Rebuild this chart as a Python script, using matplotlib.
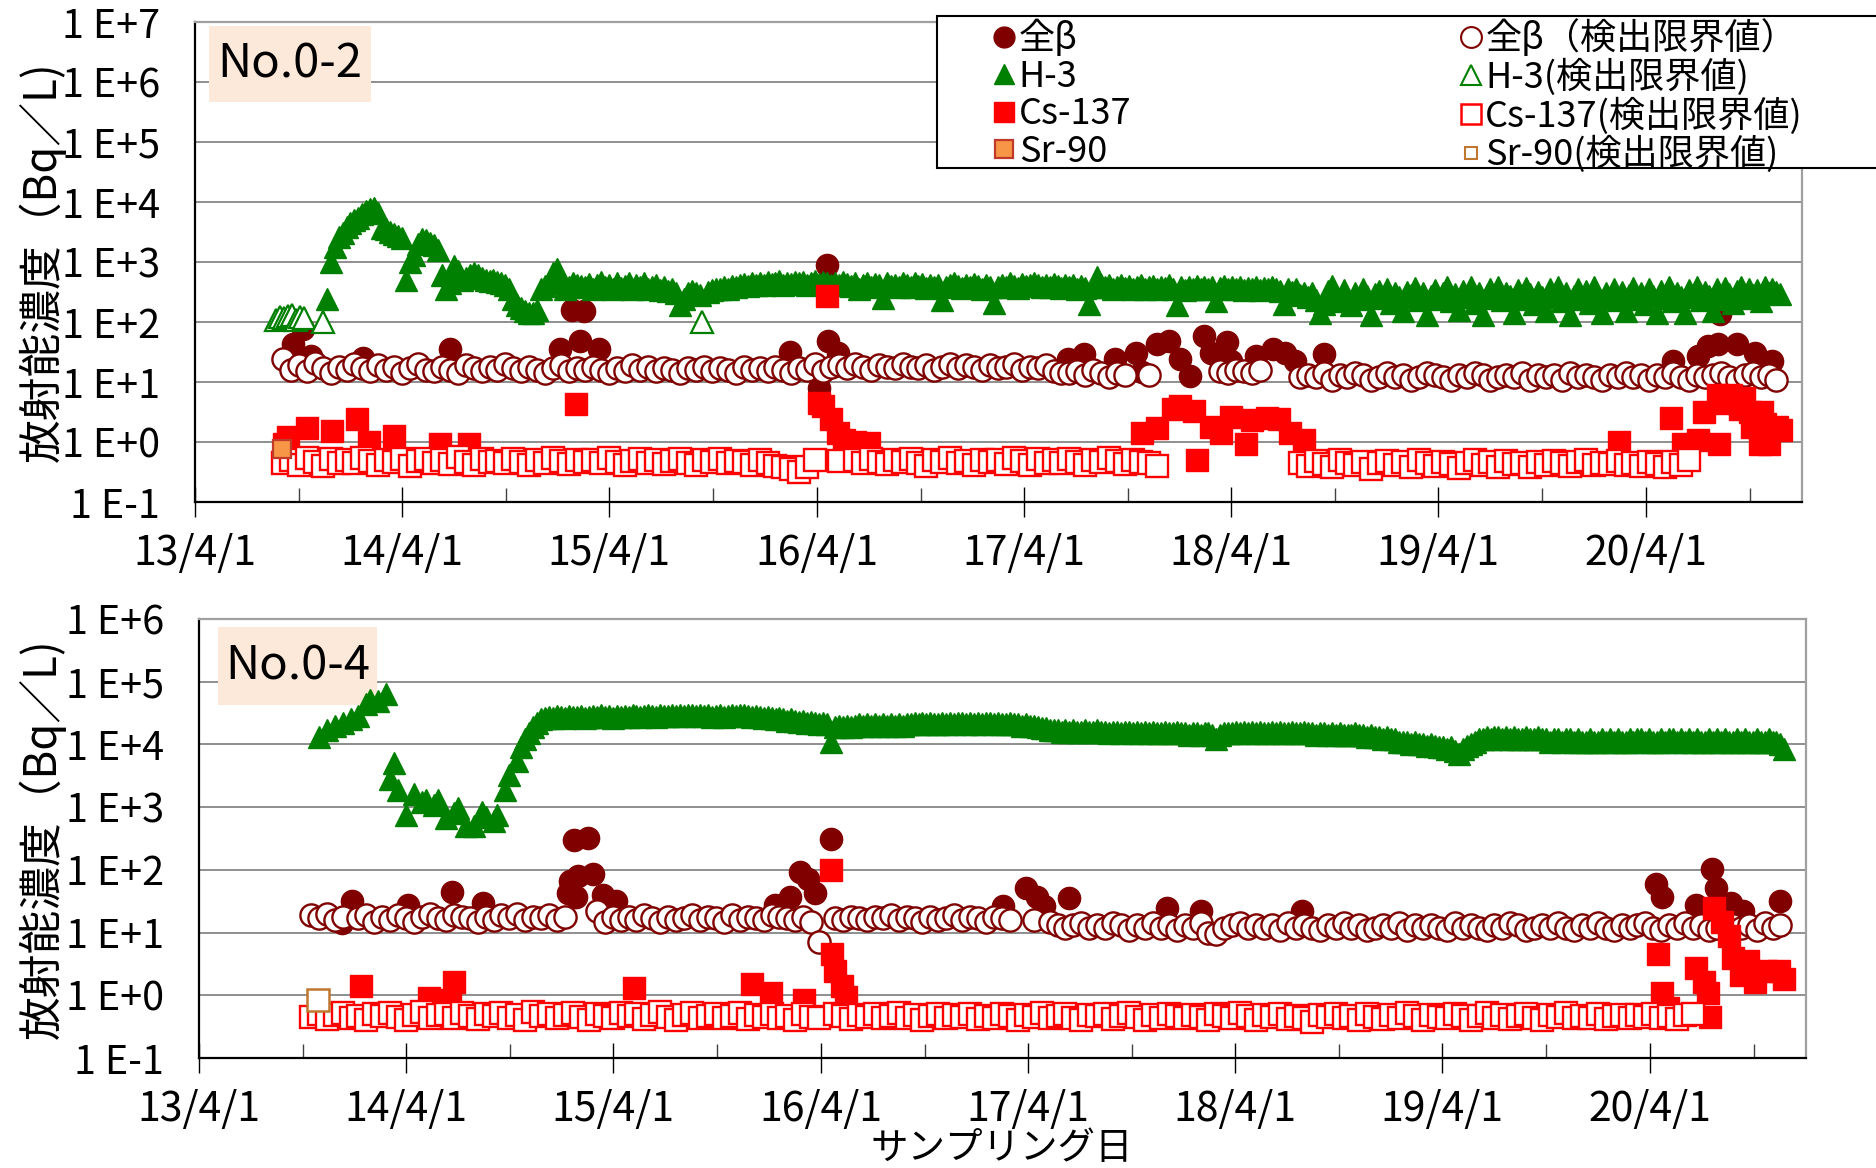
import numpy as np
import pandas as pd
import matplotlib
matplotlib.use("Agg")
import matplotlib.pyplot as plt
import matplotlib.dates as mdates
from matplotlib.lines import Line2D
from matplotlib.patches import Rectangle
from matplotlib.ticker import FuncFormatter, FixedLocator, NullLocator

plt.rcParams['font.family'] = ['Noto Sans CJK JP', 'DejaVu Sans']

# ------------------------------
# No.0-2
# ------------------------------
# H-3 sampled weekly, gross beta / Cs-137 read every 2 weeks
sched_h3_02 = pd.date_range('2013-11-19', periods=367, freq='7D')
sched_02 = pd.date_range('2013-08-20', periods=190, freq='14D')

h3_02 = [
    2.4e2, 1.0e3, 1.8e3, 2.6e3, 3.1e3, 3.8e3, 4.5e3, 5.1e3, 5.5e3, 6.2e3, 7.0e3, 7.5e3, 8.0e3,
    6.5e3, 3.7e3, 3.5e3, 3.2e3, 2.9e3, 2.7e3, 2.5e3, 5.1e2, 1.0e3, 1.3e3, 2.0e3, 2.4e3, 2.3e3,
    2.1e3, 1.9e3, 1.6e3, 6.0e2, 3.5e2, 4.5e2, 8.5e2, 7.0e2, 5.1e2, 5.5e2, 6.0e2, 6.6e2, 6.0e2,
    5.5e2, 5.1e2, 4.8e2, 5.0e2, 4.6e2, 4.5e2, 4.2e2, 3.5e2, 2.4e2, 1.9e2, 1.7e2, 1.5e2, 1.4e2,
    1.4e2, 1.6e2, 3.5e2, 4.0e2, 4.5e2, 6.5e2, 7.6e2, 5.0e2, 3.5e2, 3.8e2, 4.5e2, 4.2e2, 4.0e2,
    3.8e2, 4.3e2, 3.6e2, 4.1e2, 4.6e2, 3.9e2, 4.2e2, 3.5e2, 4.4e2, 3.7e2, 4.0e2, 4.5e2, 3.6e2,
    4.1e2, 3.8e2, 4.4e2, 3.5e2, 3.9e2, 4.2e2, 3.4e2, 3.8e2, 3.3e2, 3.6e2, 3.1e2, 1.9e2, 2.4e2,
    3.0e2, 3.3e2, 3.0e2, 2.8e2, None, 3.2e2, 3.4e2, 3.6e2, 3.5e2, 3.8e2, 3.6e2, 4.0e2, 3.9e2,
    4.1e2, 4.3e2, 4.0e2, 4.4e2, 4.2e2, 4.5e2, 4.1e2, 4.6e2, 4.3e2, 4.4e2, 4.8e2, 4.2e2, 4.5e2,
    4.3e2, 4.6e2, 4.4e2, 4.7e2, 4.2e2, 4.5e2, 4.8e2, 4.3e2, 4.6e2, 4.4e2, 4.1e2, 4.5e2, 4.2e2,
    4.6e2, 4.3e2, 4.0e2, 4.4e2, 3.6e2, 4.2e2, 4.5e2, 3.9e2, 4.3e2, 4.1e2, 2.5e2, 4.4e2, 4.0e2,
    4.2e2, 3.8e2, 4.5e2, 4.1e2, 3.9e2, 4.4e2, 4.0e2, 4.3e2, 3.7e2, 4.1e2, 3.9e2, 4.2e2, 2.3e2,
    3.8e2, 4.1e2, 4.4e2, 4.0e2, 3.7e2, 4.2e2, 3.9e2, 4.3e2, 4.0e2, 3.6e2, 4.1e2, 3.8e2, 2.1e2,
    3.9e2, 4.2e2, 3.8e2, 4.4e2, 4.0e2, 3.7e2, 4.3e2, 4.0e2, 4.1e2, 4.5e2, 4.1e2, 3.8e2, 4.2e2,
    3.9e2, 4.3e2, 4.0e2, 3.7e2, 4.2e2, 3.8e2, 4.1e2, 3.6e2, 4.0e2, 3.7e2, 2.0e2, 3.9e2, 5.6e2,
    4.2e2, 3.8e2, 4.1e2, 3.6e2, 3.9e2, 4.2e2, 3.7e2, 4.0e2, 3.5e2, 3.9e2, 4.1e2, 3.6e2, 3.8e2,
    4.0e2, 3.5e2, 3.9e2, 3.7e2, 4.1e2, 3.6e2, 1.9e2, 3.8e2, 3.4e2, 3.9e2, 3.6e2, 4.0e2, 3.5e2,
    3.8e2, 3.6e2, 3.9e2, 2.2e2, 3.7e2, 4.0e2, 3.5e2, 3.8e2, 3.6e2, 3.9e2, 3.4e2, 3.7e2, 3.5e2,
    3.8e2, 3.4e2, 3.7e2, 3.5e2, 3.9e2, 3.6e2, 3.3e2, 2.0e2, 3.6e2, 3.2e2, 3.5e2, 2.8e2, 3.0e2,
    2.6e2, 3.1e2, 2.3e2, 1.4e2, 2.0e2, 3.3e2, 4.0e2, 2.8e2, 2.2e2, 3.4e2, 2.6e2, 1.9e2, 3.0e2,
    2.4e2, 3.6e2, 2.7e2, 1.3e2, 2.9e2, 3.3e2, 2.5e2, 3.5e2, 2.1e2, 3.0e2, 2.6e2, 1.5e2, 3.2e2,
    2.8e2, 3.7e2, 2.3e2, 3.1e2, 1.3e2, 2.7e2, 3.4e2, 2.4e2, 3.0e2, 3.8e2, 2.2e2, 2.9e2, 1.6e2,
    3.3e2, 2.6e2, 3.8e2, 2.1e2, 3.0e2, 1.3e2, 2.8e2, 3.5e2, 2.5e2, 3.9e2, 2.3e2, 3.1e2, 2.7e2,
    1.4e2, 3.4e2, 2.4e2, 3.7e2, 2.9e2, 2.0e2, 3.2e2, 2.6e2, 1.5e2, 3.5e2, 2.8e2, 3.9e2, 2.2e2,
    3.0e2, 1.3e2, 2.7e2, 3.6e2, 2.4e2, 3.3e2, 2.1e2, 3.8e2, 2.6e2, 1.4e2, 3.1e2, 2.5e2, 3.5e2,
    2.3e2, 3.2e2, 1.5e2, 2.8e2, 3.7e2, 2.4e2, 3.0e2, 2.0e2, 3.6e2, 2.7e2, 1.4e2, 3.3e2, 2.5e2,
    3.8e2, 2.2e2, 3.1e2, 2.6e2, 1.4e2, 3.4e2, 2.8e2, 3.9e2, 2.3e2, 3.2e2, 2.7e2, 1.5e2, 3.5e2,
    2.4e2, 3.7e2, 2.9e2, 2.1e2, 3.3e2, 3.9e2, 2.5e2, 3.6e2, 2.8e2, 3.4e2, 2.2e2, 3.8e2, 3.0e2,
    3.5e2, 3.2e2, 2.9e2,
]

beta_lim_02 = [
    None, 24, 16, 19, 15, 21, 17, 14, 18, 16,
    20, 17, 15, 19, 16, 18, 14, 17, 20, 16,
    15, 18, 16, 14, 19, 17, 15, 18, 16, 20,
    17, 15, 18, 16, 14, 17, 19, 15, 17, 16,
    18, 16, 14, 17, 15, 19, 16, 18, 15, 17,
    16, 14, 17, 16, 18, 15, 17, 16, 14, 18,
    16, 17, 15, 18, 16, 14, 17, 16, 20, 15,
    18, 19, 17, 20, 18, 16, 19, 18, 17, 20,
    18, 17, 19, 16, 18, 20, 17, 19, 18, 16,
    19, 17, 18, 20, 16, 18, 17, 19, 15, 14,
    14, 15, 13, 16, 14, 12, 14, 13, None, None,
    13, None, None, None, None, None, None, None, None, 15,
    14, 16, 15, 14, 16, None, None, None, None, 12,
    13, 12, 14, 11, 13, 12, 14, 13, 11, 12,
    14, 12, 13, 11, 12, 14, 13, 12, 11, 13,
    12, 14, 13, 11, 12, 13, 12, 14, 11, 13,
    12, 13, 11, 14, 12, 13, 12, 11, 13, 12,
    14, 12, 13, 11, 13, 12, 14, 12, 11, 13,
    12, 13, 14, 12, 11, 13, 14, 12, 13, 11,
]

cs_lim_02 = [
    None, 0.45, 0.5, 0.42, 0.55, 0.47, 0.4, 0.52, 0.45, 0.5,
    0.44, 0.55, 0.48, 0.42, 0.5, 0.46, 0.53, 0.4, 0.48, 0.52,
    0.45, 0.5, 0.43, 0.56, 0.47, 0.41, 0.52, 0.46, 0.49, 0.44,
    0.53, 0.47, 0.42, 0.5, 0.45, 0.55, 0.48, 0.43, 0.51, 0.46,
    0.5, 0.44, 0.54, 0.47, 0.42, 0.49, 0.52, 0.45, 0.5, 0.43,
    0.48, 0.53, 0.45, 0.41, 0.5, 0.46, 0.52, 0.44, 0.49, 0.47,
    0.42, 0.5, 0.45, 0.4, 0.38, 0.35, 0.32, 0.38, 0.5, None,
    None, 0.48, None, 0.5, 0.45, 0.52, 0.47, 0.43, 0.5, 0.46,
    0.53, 0.45, 0.4, 0.5, 0.47, 0.55, 0.44, 0.49, 0.42, 0.51,
    0.46, 0.5, 0.43, 0.55, 0.48, 0.41, 0.52, 0.45, 0.5, 0.44,
    0.53, 0.47, 0.42, 0.5, 0.46, 0.55, 0.48, 0.43, 0.51, 0.46,
    0.45, 0.4, None, None, None, None, None, None, None, None,
    None, None, None, None, None, None, None, None, None, 0.45,
    0.4, 0.48, 0.43, 0.38, 0.5, 0.45, 0.41, 0.47, 0.36, 0.44,
    0.49, 0.42, 0.46, 0.38, 0.5, 0.44, 0.4, 0.47, 0.43, 0.37,
    0.45, 0.5, 0.41, 0.46, 0.39, 0.48, 0.43, 0.45, 0.38, 0.47,
    0.42, 0.49, 0.44, 0.4, 0.46, 0.5, 0.41, 0.45, 0.43, 0.48,
    0.42, 0.45, 0.4, 0.47, 0.43, 0.39, 0.46, 0.41, 0.5, None,
    None, None, None, None, None, None, None, None, None, None,
]

beta_det_02_dates = [
    '2013-09-20', '2013-10-08', '2013-10-23', '2014-01-22', '2014-06-24',
    '2015-01-04', '2015-01-26', '2015-02-09', '2015-02-16', '2015-03-14',
    '2016-02-13', '2016-04-05', '2016-04-19', '2016-04-21', '2016-05-08',
    '2017-06-17', '2017-07-16', '2017-09-09', '2017-10-15', '2017-10-26',
    '2017-11-21', '2017-12-13', '2018-01-01', '2018-01-19', '2018-02-13',
    '2018-02-24', '2018-03-25', '2018-04-01', '2018-05-15', '2018-06-13',
    '2018-07-05', '2018-07-23', '2018-09-12',
    '2020-05-18', '2020-07-01', '2020-07-20', '2020-08-06', '2020-08-10',
    '2020-09-08', '2020-10-11', '2020-11-09',
]
beta_det_02 = [
    43, 76, 27, 25, 35,
    35, 160, 48, 150, 35,
    32, 8, 900, 48, 30,
    24, 29, 24, 31, 14.5,
    43, 48, 24, 12.6, 59,
    31, 46, 22, 27, 35,
    31, 22, 29,
    22, 27, 40, 43, 135,
    43, 31, 22,
]

h3_lim_02_dates = ['2013-08-22', '2013-08-29', '2013-09-05', '2013-09-12',
                   '2013-09-19', '2013-09-26', '2013-10-03', '2013-10-10',
                   '2013-11-12', '2015-09-12']
h3_lim_02 = [1.1e2, 1.2e2, 1.15e2, 1.25e2, 1.3e2, 1.1e2, 1.2e2, 1.15e2, 1.0e2, 1.0e2]

cs_det_02_dates = [
    '2013-09-05', '2013-09-12', '2013-10-15', '2013-11-28', '2014-01-11',
    '2014-02-02', '2014-03-18', '2014-06-06', '2014-07-27', '2015-02-02',
    '2016-04-05', '2016-04-12', '2016-04-19', '2016-04-26', '2016-05-08',
    '2016-05-19', '2016-06-07', '2016-07-02',
    '2017-10-26', '2017-11-21', '2017-12-20', '2018-01-01', '2018-01-26',
    '2018-01-30', '2018-02-24', '2018-03-14', '2018-04-01', '2018-04-27',
    '2018-05-08', '2018-06-03', '2018-06-25', '2018-07-13', '2018-08-08',
    '2020-02-14', '2020-05-15', '2020-06-06', '2020-07-01', '2020-07-12',
    '2020-08-06', '2020-08-08', '2020-08-15', '2020-08-29', '2020-09-13',
    '2020-09-20', '2020-10-01', '2020-10-05', '2020-10-12', '2020-10-19',
    '2020-10-23', '2020-10-28', '2020-11-03', '2020-11-18', '2020-11-25',
]
cs_det_02 = [
    0.93, 1.2, 1.7, 1.5, 2.4,
    1.0, 1.26, 0.93, 0.93, 4.3,
    4.5, 4.0, 270, 2.4, 1.4,
    1.1, 1.0, 0.95,
    1.4, 1.7, 3.5, 4.0, 3.3,
    0.5, 1.8, 1.4, 2.6, 0.93,
    2.3, 2.5, 2.4, 1.4, 1.1,
    1.0, 2.5, 0.93, 1.1, 3.2,
    6.0, 0.93, 4.5, 6.0, 3.6,
    5.5, 3.2, 1.8, 2.5, 0.93,
    3.2, 2.0, 0.93, 1.8, 1.6,
]

sr_det_02_dates = ['2013-09-01']
sr_det_02 = [0.75]

# ------------------------------
# No.0-4
# ------------------------------
sched_h3_04 = pd.date_range('2013-10-29', periods=370, freq='7D')
sched_04 = pd.date_range('2013-10-15', periods=186, freq='14D')

h3_04 = [
    1.3e4, None, 1.7e4, None, 2.0e4, None, 2.2e4, None, 2.5e4, None, 2.8e4, None, 4.4e4,
    5.2e4, None, 5.0e4, None, 6.3e4, 2.8e3, 5.0e3, 1.9e3, None, 7.5e2, None, 1.6e3, None,
    1.2e3, 1.3e3, None, 1.1e3, 1.3e3, None, 6.6e2, None, 8.0e2, 9.8e2, None, 5.0e2, None,
    5.0e2, None, 8.5e2, 7.0e2, None, 6.0e2, 7.5e2, None, 1.9e3, 3.2e3, None, 5.4e3, 9.0e3,
    1.2e4, 1.5e4, 1.9e4, 2.2e4, 2.5e4, 2.6e4, 2.7e4, 2.6e4, 2.8e4, 2.7e4, 2.6e4, 2.8e4, 2.7e4,
    2.7e4, 2.8e4, 2.6e4, 2.7e4, 2.8e4, 2.7e4, 2.9e4, 2.7e4, 2.8e4, 2.6e4, 2.8e4, 2.7e4, 2.8e4,
    2.7e4, 2.9e4, 2.8e4, 2.7e4, 2.8e4, 2.9e4, 2.8e4, 2.7e4, 2.9e4, 2.8e4, 2.8e4, 3.0e4, 2.8e4,
    2.9e4, 2.8e4, 2.9e4, 3.0e4, 2.8e4, 2.9e4, 2.8e4, 2.9e4, 2.7e4, 2.8e4, 2.9e4, 2.7e4, 2.8e4,
    2.9e4, 2.8e4, 3.0e4, 2.9e4, 2.8e4, 2.7e4, 2.8e4, 2.7e4, 2.6e4, 2.7e4, 2.6e4, 2.5e4, 2.6e4,
    2.5e4, 2.4e4, 2.5e4, 2.4e4, 2.3e4, 2.4e4, 2.2e4, 2.3e4, 2.2e4, 2.1e4, 2.2e4, 2.1e4, 1.1e4,
    1.9e4, 2.0e4, 1.9e4, 2.0e4, 1.9e4, 2.0e4, 2.1e4, 2.0e4, 2.1e4, 2.0e4, 2.1e4, 2.0e4, 2.1e4,
    2.0e4, 2.1e4, 2.0e4, 2.1e4, 2.0e4, 2.1e4, 2.1e4, 2.2e4, 2.1e4, 2.2e4, 2.1e4, 2.2e4, 2.1e4,
    2.1e4, 2.2e4, 2.1e4, 2.2e4, 2.1e4, 2.2e4, 2.2e4, 2.1e4, 2.2e4, 2.1e4, 2.2e4, 2.1e4, 2.2e4,
    2.2e4, 2.1e4, 2.2e4, 2.1e4, 2.1e4, 2.2e4, 2.1e4, 2.1e4, 2.0e4, 2.1e4, 2.0e4, 2.0e4, 1.9e4,
    1.8e4, 1.8e4, 1.7e4, 1.7e4, 1.7e4, 1.6e4, 1.7e4, 1.6e4, 1.7e4, 1.6e4, 1.6e4, 1.7e4, 1.6e4,
    1.6e4, 1.7e4, 1.6e4, 1.6e4, 1.5e4, 1.6e4, 1.6e4, 1.5e4, 1.6e4, 1.6e4, 1.5e4, 1.6e4, 1.5e4,
    1.6e4, 1.5e4, 1.6e4, 1.5e4, 1.5e4, 1.6e4, 1.5e4, 1.5e4, 1.6e4, 1.5e4, 1.5e4, 1.4e4, 1.5e4,
    1.5e4, 1.4e4, 1.5e4, 1.5e4, 1.4e4, 1.2e4, 1.4e4, 1.5e4, 1.5e4, 1.5e4, 1.6e4, 1.5e4, 1.6e4,
    1.5e4, 1.6e4, 1.5e4, 1.6e4, 1.5e4, 1.5e4, 1.6e4, 1.5e4, 1.6e4, 1.5e4, 1.5e4, 1.6e4, 1.5e4,
    1.5e4, 1.6e4, 1.5e4, 1.5e4, 1.4e4, 1.5e4, 1.5e4, 1.4e4, 1.5e4, 1.4e4, 1.5e4, 1.4e4, 1.4e4,
    1.4e4, 1.5e4, 1.4e4, 1.4e4, 1.3e4, 1.4e4, 1.3e4, 1.3e4, 1.2e4, 1.3e4, 1.2e4, 1.2e4, 1.1e4,
    1.1e4, 1.1e4, 1.0e4, 1.1e4, 1.0e4, 1.0e4, 9.5e3, 1.0e4, 9.5e3, 9.0e3, 9.0e3, 8.5e3, 9.0e3,
    8.0e3, 7.0e3, 8.5e3, 9.5e3, 1.0e4, 1.1e4, 1.2e4, 1.2e4, 1.3e4, 1.2e4, 1.3e4, 1.3e4, 1.2e4,
    1.3e4, 1.2e4, 1.3e4, 1.2e4, 1.2e4, 1.3e4, 1.2e4, 1.2e4, 1.3e4, 1.2e4, 1.2e4, 1.1e4, 1.2e4,
    1.2e4, 1.1e4, 1.2e4, 1.2e4, 1.1e4, 1.2e4, 1.1e4, 1.1e4, 1.2e4, 1.1e4, 1.1e4, 1.2e4, 1.1e4,
    1.2e4, 1.1e4, 1.2e4, 1.1e4, 1.1e4, 1.2e4, 1.1e4, 1.2e4, 1.2e4, 1.1e4, 1.2e4, 1.1e4, 1.1e4,
    1.2e4, 1.1e4, 1.2e4, 1.2e4, 1.1e4, 1.2e4, 1.1e4, 1.2e4, 1.1e4, 1.2e4, 1.1e4, 1.1e4, 1.2e4,
    1.1e4, 1.2e4, 1.1e4, 1.2e4, 1.1e4, 1.1e4, 1.2e4, 1.1e4, 1.2e4, 1.1e4, 1.1e4, 1.2e4, 1.1e4,
    1.1e4, 1.2e4, 1.1e4, 1.1e4, 1.0e4, 8.5e3,
]

beta_lim_04 = [
    19, 17, 20, 16, 18, None, 17, 19, 15, 18,
    16, 19, 17, 15, 18, 20, 17, 16, 19, 18,
    17, 15, 18, 16, 19, 17, 20, 16, 18, 17,
    19, 16, 18, None, None, None, 22, 15, 18, 16,
    18, 16, 19, 17, 15, 18, 16, 17, 19, 16,
    18, 17, 15, 19, 16, 18, 17, 16, 19, 18,
    17, 16, 18, 15, 7, None, 17, 16, 18, 17,
    16, 18, 17, 19, 16, 18, 17, 15, 18, 16,
    17, 19, 16, 18, 17, 15, 18, 17, 16, None,
    None, 16, None, 15, 13, 12, 13, 14, 12, 13,
    12, 14, 13, 11, 13, 12, 14, 12, 13, 11,
    13, 12, 14, 10, 9.5, 12, 13, 14, 12, 13,
    12, 13, 11, 14, 12, 13, 12, 11, 13, 12,
    14, 12, 13, 11, 12, 13, 12, 14, 11, 13,
    12, 13, 12, 11, 14, 12, 13, 12, 11, 13,
    12, 14, 13, 11, 12, 13, 12, 14, 12, 11,
    13, 12, 14, 12, 11, 13, 12, 13, 14, 12,
    11, 13, 12, 14, 12, 13, 11, 12, 14, 13,
    12, 13, 11, 14, 12, 13,
]

cs_lim_04 = [
    0.45, 0.5, 0.42, 0.48, 0.52, 0.44, 0.47, 0.4, 0.5, 0.46,
    0.53, 0.45, 0.41, 0.49, 0.55, 0.43, 0.48, 0.5, 0.44, 0.52,
    0.46, 0.42, 0.5, 0.47, 0.53, 0.44, 0.49, 0.41, 0.55, 0.46,
    0.5, 0.43, 0.48, 0.52, 0.45, 0.4, 0.5, 0.47, 0.44, 0.53,
    0.46, 0.5, 0.42, 0.48, 0.55, 0.45, 0.41, 0.49, 0.52, 0.44,
    0.47, 0.5, 0.43, 0.46, 0.53, 0.42, 0.48, 0.45, 0.5, 0.44,
    0.47, 0.41, 0.5, 0.45, 0.43, None, 0.5, 0.46, 0.42, 0.48,
    0.45, 0.5, 0.43, 0.47, 0.52, 0.44, 0.49, 0.41, 0.46, 0.5,
    0.43, 0.48, 0.45, 0.51, 0.42, 0.47, 0.44, 0.5, 0.46, 0.41,
    0.49, 0.45, 0.52, 0.43, 0.47, 0.5, 0.44, 0.41, 0.48, 0.46,
    0.5, 0.42, 0.47, 0.53, 0.45, 0.4, 0.48, 0.44, 0.51, 0.46,
    0.43, 0.49, 0.45, 0.41, 0.5, 0.47, 0.44, 0.52, 0.46, 0.4,
    0.48, 0.45, 0.5, 0.42, 0.47, 0.44, 0.38, 0.49, 0.45, 0.51,
    0.43, 0.47, 0.4, 0.5, 0.45, 0.42, 0.48, 0.44, 0.52, 0.46,
    0.41, 0.49, 0.45, 0.43, 0.5, 0.47, 0.4, 0.46, 0.53, 0.44,
    0.48, 0.42, 0.47, 0.5, 0.44, 0.41, 0.49, 0.45, 0.52, 0.43,
    0.47, 0.44, 0.5, 0.42, 0.46, 0.49, 0.43, 0.48, 0.45, 0.5,
    0.44, 0.47, 0.42, 0.48, 0.5, None, None, None, None, None,
    None, None, None, None, None, None,
]

beta_det_04_dates = [
    '2013-12-09', '2013-12-27', '2014-04-05', '2014-06-21', '2014-08-14',
    '2015-01-11', '2015-01-15', '2015-01-22', '2015-01-26', '2015-01-29',
    '2015-02-16', '2015-02-24', '2015-03-14', '2015-04-05',
    '2016-01-11', '2016-02-06', '2016-02-24', '2016-03-10', '2016-03-21',
    '2016-04-19', '2017-02-16', '2017-03-29', '2017-04-16', '2017-04-30',
    '2017-06-13', '2017-12-02', '2018-01-30', '2018-07-27',
    '2020-04-12', '2020-04-23', '2020-06-21', '2020-07-20', '2020-07-27',
    '2020-08-22', '2020-09-12', '2020-11-17',
]
beta_det_04 = [
    14, 32, 28, 45, 30,
    42, 66, 300, 37, 81,
    320, 87, 40, 32,
    28, 37, 93, 71, 42,
    310, 27, 52, 37, 27,
    35, 25, 22, 22,
    59, 37, 28, 105, 52,
    30, 22, 32,
]

cs_det_04_dates = [
    '2014-01-11', '2014-05-11', '2014-06-17', '2014-06-24', '2015-05-08',
    '2015-12-02', '2016-01-04', '2016-03-03', '2016-04-19', '2016-04-20',
    '2016-04-26', '2016-05-08', '2016-05-15',
    '2020-04-15', '2020-04-23', '2020-05-03', '2020-06-21', '2020-07-05',
    '2020-07-12', '2020-07-16', '2020-07-23', '2020-08-06', '2020-08-18',
    '2020-08-25', '2020-09-08', '2020-09-20', '2020-10-04', '2020-10-23',
    '2020-11-14', '2020-11-24',
]
cs_det_04 = [
    1.4, 0.9, 0.85, 1.6, 1.3,
    1.5, 1.07, 0.85, 100, 4.6,
    2.4, 1.4, 0.95,
    4.6, 1.07, 0.63, 2.7, 1.6,
    1.07, 0.45, 25, 15, 8.7,
    4.0, 2.1, 3.5, 1.6, 2.4,
    2.4, 1.8,
]

sr_lim_04_dates = ['2013-10-27']
sr_lim_04 = [0.85]

# ------------------------------
# Styles
# ------------------------------
BETA = '#800000'
GREEN = '#008000'
RED = '#ff0000'
SR_FACE = '#f79646'
SR_EDGE = '#c0392b'
SR_LIM = '#c0772f'
MS = 16

W, H = 1876, 1168
fig = plt.figure(figsize=(W / 100, H / 100), dpi=100)
ax1 = fig.add_axes([195 / W, 1 - 502 / H, (1802 - 195) / W, (502 - 22) / H])
ax2 = fig.add_axes([199 / W, 1 - 1058 / H, (1806 - 199) / W, (1058 - 619) / H])


def vals(v):
    return np.array([np.nan if x is None else x for x in v], dtype=float)


def pts(ax, dates, v, marker, face, edge, ms=MS, mew=1.0):
    ax.plot(pd.to_datetime(dates), vals(v), linestyle='none', marker=marker,
            markersize=ms, markerfacecolor=face, markeredgecolor=edge,
            markeredgewidth=mew)


def date_label(x, pos):
    d = mdates.num2date(x)
    return f"{d.year % 100}/{d.month}/{d.day}"


def style_axes(ax, top_exp):
    ax.set_yscale('log')
    ax.set_ylim(1e-1, 10.0 ** top_exp)
    ax.yaxis.set_major_locator(FixedLocator([10.0 ** e for e in range(-1, top_exp + 1)]))
    ax.yaxis.set_minor_locator(NullLocator())
    ax.yaxis.set_major_formatter(FuncFormatter(lambda v, p: f"1 E{int(round(np.log10(v))):+d}"))
    ax.set_xlim(pd.Timestamp('2013-04-01'), pd.Timestamp('2021-01-01'))
    ax.xaxis.set_major_locator(mdates.YearLocator(base=1, month=4, day=1))
    ax.xaxis.set_minor_locator(mdates.MonthLocator(bymonth=10, bymonthday=1))
    ax.xaxis.set_major_formatter(FuncFormatter(date_label))
    ax.grid(axis='y', which='major', color='#868686', linewidth=1.3)
    ax.tick_params(axis='y', length=0, pad=25, labelsize=28.5)
    ax.tick_params(axis='x', which='major', direction='inout', length=22,
                   width=1, color='black', pad=11, labelsize=29.5)
    ax.tick_params(axis='x', which='minor', direction='in', length=10,
                   width=1, color='#404040')
    for s in ['left', 'bottom']:
        ax.spines[s].set_color('black')
        ax.spines[s].set_linewidth(1.6)
    for s in ['top', 'right']:
        ax.spines[s].set_color('#a0a0a0')
        ax.spines[s].set_linewidth(1.6)


def site_box(ax, x0, y0, x1, y1, text):
    ax.add_patch(Rectangle((x0, y0), x1 - x0, y1 - y0, transform=ax.transAxes,
                           facecolor='#fde9d9', edgecolor='none', zorder=1.8))
    ax.text((x0 + x1) / 2, (y0 + y1) / 2, text, transform=ax.transAxes,
            ha='center', va='center', fontsize=34, zorder=1.9)


# ------------------------------
# Panel No.0-2
# ------------------------------
pts(ax1, beta_det_02_dates, beta_det_02, 'o', BETA, BETA)
pts(ax1, sched_02, beta_lim_02, 'o', 'white', BETA, mew=1.7)
pts(ax1, sched_h3_02, h3_02, '^', GREEN, GREEN)
pts(ax1, h3_lim_02_dates, h3_lim_02, '^', 'white', GREEN, mew=1.6)
pts(ax1, cs_det_02_dates, cs_det_02, 's', RED, RED)
pts(ax1, sched_02, cs_lim_02, 's', 'white', RED, mew=1.7)
pts(ax1, sr_det_02_dates, sr_det_02, 's', SR_FACE, SR_EDGE, ms=13, mew=1.6)
style_axes(ax1, 7)
site_box(ax1, 0.0087, 0.833, 0.1095, 0.991, 'No.0-2')

# ------------------------------
# Panel No.0-4
# ------------------------------
pts(ax2, beta_det_04_dates, beta_det_04, 'o', BETA, BETA)
pts(ax2, sched_04, beta_lim_04, 'o', 'white', BETA, mew=1.7)
pts(ax2, sched_h3_04, h3_04, '^', GREEN, GREEN)
pts(ax2, cs_det_04_dates, cs_det_04, 's', RED, RED)
pts(ax2, sched_04, cs_lim_04, 's', 'white', RED, mew=1.7)
pts(ax2, sr_lim_04_dates, sr_lim_04, 's', 'white', SR_LIM, mew=1.8)
style_axes(ax2, 6)
site_box(ax2, 0.0118, 0.804, 0.1108, 0.982, 'No.0-4')

# y labels and x label
fig.text(42 / W, 1 - 262 / H, '放射能濃度（Bq／L)', rotation=90,
         ha='center', va='center', fontsize=31.5)
fig.text(42 / W, 1 - 839 / H, '放射能濃度（Bq／L)', rotation=90,
         ha='center', va='center', fontsize=31.5)
fig.text(1002 / W, 1 - 1149 / H, 'サンプリング日', ha='center', va='center', fontsize=27)

# ------------------------------
# Legend (box runs off the right edge)
# ------------------------------
fig.add_artist(Rectangle((937 / W, 1 - 168 / H), 0.6, 152 / H, transform=fig.transFigure,
                         facecolor='white', edgecolor='black', linewidth=1.5, zorder=3))


def handle(marker, face, edge, ms=15, mew=1.0):
    return Line2D([], [], linestyle='none', marker=marker, markersize=ms,
                  markerfacecolor=face, markeredgecolor=edge, markeredgewidth=mew)


handles = [
    handle('o', BETA, BETA),
    handle('^', GREEN, GREEN),
    handle('s', RED, RED),
    handle('s', SR_FACE, SR_EDGE, ms=13, mew=1.6),
    handle('o', 'white', BETA, mew=1.5),
    handle('^', 'white', GREEN, mew=1.5),
    handle('s', 'white', RED, mew=1.8),
    handle('s', 'white', SR_LIM, ms=9, mew=1.5),
]
labels = ['全β', 'H-3', 'Cs-137', 'Sr-90',
          '全β（検出限界値）', 'H-3(検出限界値)', 'Cs-137(検出限界値)', 'Sr-90(検出限界値)']
leg = fig.legend(handles, labels, loc='upper left', bbox_to_anchor=(993.5 / W, 1 - 19.5 / H),
                 ncol=2, frameon=False, fontsize=26, handlelength=0.6, handletextpad=0.1,
                 columnspacing=9.1, labelspacing=0.04, borderaxespad=0, borderpad=0)
leg.set_zorder(5)

fig.savefig('out.png', dpi=100)
